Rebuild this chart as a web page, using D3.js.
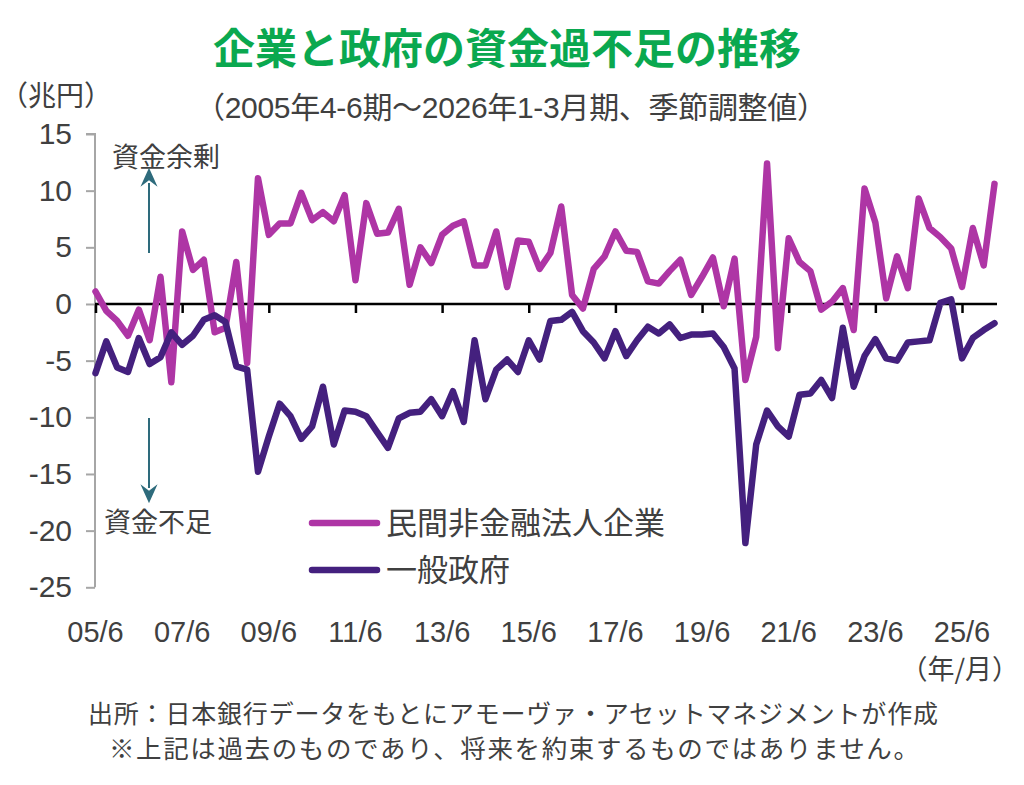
<!DOCTYPE html>
<html><head><meta charset="utf-8">
<script src="https://cdn.jsdelivr.net/npm/d3@7"></script>
<style>body{margin:0;background:#fff} svg{display:block}</style>
</head><body><svg id="c" width="1024" height="785"></svg>
<script>
const quarters = [
"05/6","05/9","05/12",
"06/3","06/6","06/9","06/12","07/3","07/6","07/9","07/12",
"08/3","08/6","08/9","08/12","09/3","09/6","09/9","09/12",
"10/3","10/6","10/9","10/12","11/3","11/6","11/9","11/12",
"12/3","12/6","12/9","12/12","13/3","13/6","13/9","13/12",
"14/3","14/6","14/9","14/12","15/3","15/6","15/9","15/12",
"16/3","16/6","16/9","16/12","17/3","17/6","17/9","17/12",
"18/3","18/6","18/9","18/12","19/3","19/6","19/9","19/12",
"20/3","20/6","20/9","20/12","21/3","21/6","21/9","21/12",
"22/3","22/6","22/9","22/12","23/3","23/6","23/9","23/12",
"24/3","24/6","24/9","24/12","25/3","25/6","25/9","25/12",
"26/3"];
const corporate = [
1.1,-0.6,-1.5,-2.8,-0.5,-3.2,2.4,-6.9,6.4,3.0,3.9,-2.5,-2.1,3.7,-5.2,11.1,6.1,7.1,7.1,9.8,
7.4,8.1,7.3,9.6,2.1,8.9,6.2,6.3,8.4,1.7,5.0,3.6,6.1,6.9,7.3,3.4,3.4,6.4,1.5,5.6,
5.5,3.1,4.5,8.6,0.8,-0.4,3.1,4.2,6.4,4.7,4.6,2.0,1.8,2.9,3.9,0.8,2.4,4.1,-0.2,4.0,
-6.7,-2.9,12.4,-3.9,5.8,3.7,2.9,-0.5,0.2,1.4,-2.3,10.2,7.2,0.5,4.2,1.4,9.3,6.7,5.9,4.9,
1.5,6.7,3.4,10.6];
const government = [
-6.1,-3.3,-5.6,-6.0,-3.0,-5.3,-4.7,-2.5,-3.6,-2.8,-1.4,-1.0,-1.6,-5.5,-5.8,-14.8,-11.7,-8.8,-9.9,-11.9,
-10.8,-7.3,-12.4,-9.4,-9.5,-9.9,-11.3,-12.7,-10.1,-9.6,-9.5,-8.4,-9.9,-7.7,-10.4,-3.2,-8.4,-5.8,-4.9,-6.0,
-3.2,-4.9,-1.5,-1.4,-0.7,-2.4,-3.4,-4.8,-2.4,-4.6,-3.2,-2.0,-2.6,-1.8,-3.0,-2.7,-2.7,-2.6,-3.8,-5.7,
-21.1,-12.4,-9.4,-10.8,-11.7,-8.0,-7.9,-6.7,-8.3,-2.1,-7.3,-4.6,-3.1,-4.8,-5.0,-3.4,-3.3,-3.2,0.1,0.4,
-4.8,-3.0,-2.3,-1.7];
const xTickLabels = ["05/6","07/6","09/6","11/6","13/6","15/6","17/6","19/6","21/6","23/6","25/6"];
const yTicks = [15,10,5,0,-5,-10,-15,-20,-25];
const seriesNames = ["民間非金融法人企業","一般政府"];
const seriesColors = ["#ae35a5","#44207e"];
const titleText = "企業と政府の資金過不足の推移";
const subtitleText = "（2005年4-6期～2026年1-3月期、季節調整値）";
const unitText = "（兆円）";
const xUnitText = "（年/月）";
const surplusText = "資金余剰";
const deficitText = "資金不足";
const footer1 = "出所：日本銀行データをもとにアモーヴァ・アセットマネジメントが作成";
const footer2 = "※上記は過去のものであり、将来を約束するものではありません。";

const svg = d3.select("#c");
const JP = "'Noto Sans CJK JP','Noto Sans',sans-serif";
const LAT = "'Liberation Sans','Noto Sans CJK JP',sans-serif";
const textCol = "#404040";

const x = d3.scalePoint().domain(quarters).range([95.5, 994.5]);
const y = d3.scaleLinear().domain([-25, 15]).range([587.3, 134]);

// title
svg.append("text").attr("x", 507).attr("y", 64).attr("text-anchor","middle")
  .attr("font-family", JP).attr("font-weight", 700).attr("font-size", 42)
  .attr("fill", "#0aa84f").text(titleText);
svg.append("text").attr("x", 511).attr("y", 118).attr("text-anchor","middle")
  .attr("font-family", LAT).attr("font-size", 30).attr("fill", textCol)
  .attr("textLength", 632).attr("lengthAdjust", "spacing").text(subtitleText);
svg.append("text").attr("x", 0).attr("y", 106)
  .attr("font-family", JP).attr("font-size", 28).attr("fill", textCol).text(unitText);

// y axis
const yAxis = svg.append("g").attr("transform", "translate(95,0)")
  .call(d3.axisLeft(y).tickValues(yTicks).tickSize(9).tickPadding(14).tickFormat(d => String(d)));
yAxis.select(".domain").attr("stroke", "#a6a6a6").attr("stroke-width", 2)
  .attr("d", `M-9,${y(15)}H0V${y(-25)}`);
yAxis.selectAll(".tick line").attr("stroke", "#a6a6a6").attr("stroke-width", 2);
yAxis.selectAll(".tick text").attr("font-family", LAT).attr("font-size", 30).attr("fill", textCol);

// x axis at zero
const xAxis = svg.append("g").attr("transform", `translate(0,${y(0)})`)
  .call(d3.axisBottom(x).tickValues(xTickLabels).tickSize(9).tickFormat(""));
xAxis.select(".domain").attr("stroke", "#000").attr("stroke-width", 2.5)
  .attr("d", `M95,0H997`);
xAxis.selectAll(".tick line").attr("stroke", "#000").attr("stroke-width", 2.5);

// x tick labels at bottom
svg.append("g").selectAll("text").data(xTickLabels).join("text")
  .attr("x", d => x(d)).attr("y", 642).attr("text-anchor", "middle")
  .attr("font-family", LAT).attr("font-size", 29).attr("fill", textCol).text(d => d);
svg.append("text").attr("x", 1019).attr("y", 679).attr("text-anchor","end")
  .attr("font-family", JP).attr("font-size", 27).attr("fill", textCol).text(xUnitText);

// lines
const line = d3.line().x((d, i) => x(quarters[i])).y(d => y(d));
[corporate, government].forEach((s, k) => {
  svg.append("path").datum(s).attr("d", line).attr("fill", "none")
    .attr("stroke", seriesColors[k]).attr("stroke-width", 6.5)
    .attr("stroke-linejoin", "round").attr("stroke-linecap", "round");
});

// annotations
const arrowCol = "#2e6b7c";
const defs = svg.append("defs");
defs.append("marker").attr("id","ah").attr("viewBox","0 0 10 10").attr("refX",2).attr("refY",5)
  .attr("markerWidth",19).attr("markerHeight",19).attr("markerUnits","userSpaceOnUse")
  .attr("orient","auto-start-reverse")
  .append("path").attr("d","M0,0.5 L10,5 L0,9.5 L3.5,5 Z").attr("fill", arrowCol);
svg.append("text").attr("x", 112).attr("y", 167)
  .attr("font-family", JP).attr("font-size", 27).attr("fill", textCol).text(surplusText);
svg.append("line").attr("x1",149).attr("x2",149).attr("y1",253).attr("y2",183)
  .attr("stroke", arrowCol).attr("stroke-width", 2).attr("marker-end","url(#ah)");
svg.append("line").attr("x1",149).attr("x2",149).attr("y1",418).attr("y2",488)
  .attr("stroke", arrowCol).attr("stroke-width", 2).attr("marker-end","url(#ah)");
svg.append("text").attr("x", 104).attr("y", 532)
  .attr("font-family", JP).attr("font-size", 27).attr("fill", textCol).text(deficitText);

// legend
const legY = [523, 570];
seriesNames.forEach((n, k) => {
  svg.append("line").attr("x1", 312).attr("x2", 377).attr("y1", legY[k]).attr("y2", legY[k])
    .attr("stroke", seriesColors[k]).attr("stroke-width", 6.5).attr("stroke-linecap","round");
  svg.append("text").attr("x", 386).attr("y", legY[k] + 11)
    .attr("font-family", JP).attr("font-size", 31).attr("fill", textCol).text(n);
});

// footer
svg.append("text").attr("x", 513).attr("y", 723).attr("text-anchor","middle")
  .attr("font-family", JP).attr("font-size", 25).attr("fill", textCol)
  .attr("textLength", 850).attr("lengthAdjust", "spacing").text(footer1);
svg.append("text").attr("x", 514).attr("y", 758).attr("text-anchor","middle")
  .attr("font-family", JP).attr("font-size", 25.5).attr("fill", textCol)
  .attr("textLength", 810).attr("lengthAdjust", "spacing").text(footer2);
</script>
</body></html>
